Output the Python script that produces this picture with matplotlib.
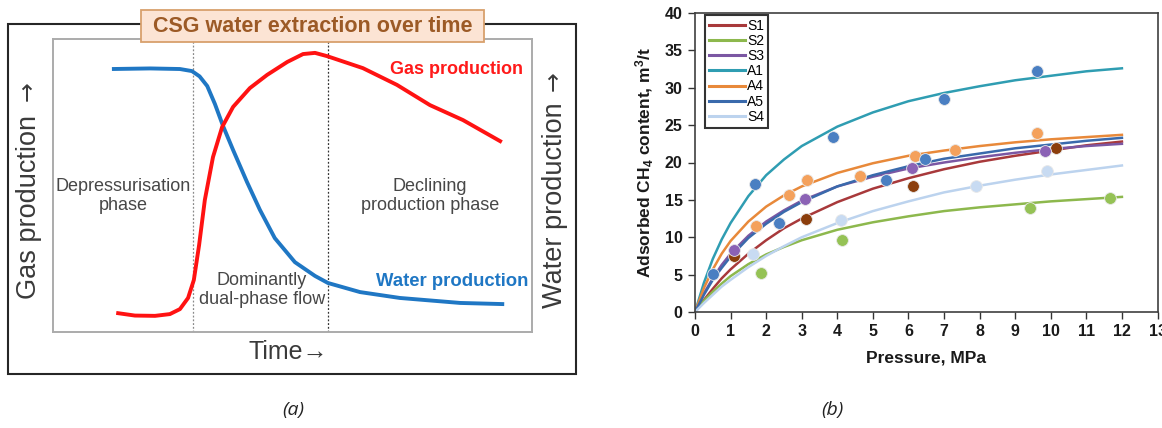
import matplotlib
matplotlib.use("Agg")
import matplotlib.pyplot as plt
from matplotlib.patches import Rectangle
from matplotlib.lines import Line2D

plt.rcParams['font.family'] = ['Liberation Sans', 'DejaVu Sans']
plt.rcParams['mathtext.fontset'] = 'custom'
plt.rcParams['mathtext.rm'] = 'Liberation Sans:bold'
plt.rcParams['mathtext.bf'] = 'Liberation Sans:bold'
plt.rcParams['mathtext.default'] = 'bf'

W, H = 1162, 428

# ---------------- Panel (a): schematic curves (time, relative level 0-100) ----------------
water_t = [12.3, 20.3, 26.5, 29.0, 30.6, 32.2, 33.8, 35.5, 37.6, 40.5, 43.2, 46.3, 50.5, 54.7, 57.4, 64.1, 72.4, 85.0, 94.2]
water_v = [89.6, 89.8, 89.6, 88.9, 87.1, 83.8, 77.7, 70.2, 62.0, 51.1, 41.6, 32.0, 23.8, 19.1, 16.7, 13.6, 11.6, 9.9, 9.5]
gas_t = [13.2, 17.1, 21.3, 24.4, 26.5, 28.2, 29.4, 30.5, 31.7, 33.4, 35.3, 37.6, 41.1, 44.7, 48.9, 52.2, 54.7, 57.2, 64.7, 71.8, 78.7, 85.6, 93.7]
gas_v = [6.5, 5.6, 5.5, 6.1, 7.8, 11.6, 17.7, 29.6, 45.0, 59.6, 69.8, 76.7, 83.1, 87.6, 92.0, 94.7, 95.1, 94.0, 89.9, 84.2, 77.3, 72.2, 64.7]
phase_bounds = [29.2, 57.4]

# ---------------- Panel (b): adsorption isotherms ----------------
pressure_curve = [0, 0.25, 0.5, 0.75, 1, 1.5, 2, 2.5, 3, 4, 5, 6, 7, 8, 9, 10, 11, 12]
series_names = ['S1', 'S2', 'S3', 'A1', 'A4', 'A5', 'S4']
curve_S1 = [0, 1.6, 3.1, 4.5, 5.7, 7.8, 9.6, 11.2, 12.5, 14.7, 16.5, 17.9, 19.1, 20.1, 20.9, 21.6, 22.3, 22.8]
curve_S2 = [0, 1.5, 2.7, 3.8, 4.8, 6.4, 7.7, 8.7, 9.6, 11.0, 12.0, 12.8, 13.5, 14.0, 14.4, 14.8, 15.1, 15.4]
curve_S3 = [0, 2.5, 4.5, 6.3, 7.8, 10.2, 12.1, 13.6, 14.9, 16.8, 18.1, 19.2, 20.0, 20.7, 21.3, 21.8, 22.2, 22.5]
curve_A1 = [0, 3.9, 7.1, 9.7, 11.9, 15.5, 18.3, 20.4, 22.2, 24.8, 26.7, 28.2, 29.3, 30.2, 31.0, 31.6, 32.2, 32.6]
curve_A4 = [0, 3.2, 5.7, 7.8, 9.5, 12.1, 14.1, 15.6, 16.8, 18.6, 19.9, 20.9, 21.6, 22.2, 22.7, 23.1, 23.4, 23.7]
curve_A5 = [0, 2.3, 4.3, 5.9, 7.4, 9.9, 11.8, 13.4, 14.7, 16.8, 18.3, 19.5, 20.5, 21.2, 21.9, 22.4, 22.9, 23.3]
curve_S4 = [0, 1.2, 2.3, 3.4, 4.3, 6.0, 7.5, 8.8, 10.0, 11.9, 13.5, 14.8, 16.0, 16.9, 17.7, 18.4, 19.0, 19.6]

pts_S1_p = [1.1, 3.12, 6.12, 10.16]; pts_S1_v = [7.5, 12.5, 16.9, 22.0]
pts_S2_p = [1.85, 4.13, 9.41, 11.66]; pts_S2_v = [5.2, 9.6, 13.9, 15.3]
pts_S3_p = [1.1, 3.1, 6.1, 9.83]; pts_S3_v = [8.3, 15.1, 19.2, 21.6]
pts_A1_p = [1.69, 3.87, 7.0, 9.62]; pts_A1_v = [17.1, 23.4, 28.5, 32.2]
pts_A4_p = [1.71, 2.65, 3.16, 4.65, 6.17, 7.31, 9.62]; pts_A4_v = [11.5, 15.6, 17.7, 18.2, 20.9, 21.7, 24.0]
pts_A5_p = [0.5, 2.35, 5.37, 6.46]; pts_A5_v = [5.1, 11.9, 17.6, 20.5]
pts_S4_p = [1.64, 4.1, 7.91, 9.88]; pts_S4_v = [7.8, 12.3, 16.8, 18.9]

x_ticks = list(range(0, 14))
y_ticks = list(range(0, 41, 5))


def fx(px):
    return px / W


def fy(py):
    return 1 - py / H


fig = plt.figure(figsize=(W / 100, H / 100), dpi=100)

# ---- panel (a) decorations in figure coordinates ----
outer = Rectangle((fx(8), fy(374)), fx(576) - fx(8), fy(24) - fy(374), transform=fig.transFigure,
                  fill=False, edgecolor='#262626', lw=1.5, zorder=1)
fig.patches.append(outer)

axL = fig.add_axes([fx(53), fy(332), fx(532) - fx(53), fy(38.5) - fy(332)])
axL.set_xlim(0, 100)
axL.set_ylim(0, 100)
axL.set_xticks([])
axL.set_yticks([])
for s in axL.spines.values():
    s.set_color('#ababab')
    s.set_linewidth(1.4)
for xb, c in zip(phase_bounds, ['#8a8a8a', '#333333']):
    axL.axvline(xb, color=c, lw=0.9, ls=(0, (1.5, 1.5)), zorder=1)
axL.plot(water_t, water_v, color='#1f77c4', lw=2.8, solid_capstyle='butt', zorder=3)
axL.plot(gas_t, gas_v, color='#ff1212', lw=2.8, solid_capstyle='butt', zorder=4)

title_box = Rectangle((fx(141), fy(42)), fx(484) - fx(141), fy(10) - fy(42), transform=fig.transFigure,
                      facecolor='#fce4d4', edgecolor='#d8a06c', lw=1.3, zorder=5)
fig.patches.append(title_box)
fig.text(fx(313), fy(26.5), 'CSG water extraction over time', ha='center', va='center',
         fontsize=15.5, fontweight='bold', color='#9c5a26', zorder=6)

fig.text(fx(29), fy(207), 'Gas production', rotation=90, ha='center', va='center',
         fontsize=19.5, color='#3a3a3a')
fig.text(fx(28), fy(91), '\u2192', rotation=90, ha='center', va='center',
         fontsize=17, color='#3a3a3a', family=['DejaVu Sans'])
fig.text(fx(555), fy(205), 'Water production', rotation=90, ha='center', va='center',
         fontsize=19.5, color='#3a3a3a')
fig.text(fx(554), fy(81), '\u2192', rotation=90, ha='center', va='center',
         fontsize=17, color='#3a3a3a', family=['DejaVu Sans'])
fig.text(fx(288), fy(352), 'Time\u2192', ha='center', va='center', fontsize=18, color='#3a3a3a')

fig.text(fx(123), fy(196), 'Depressurisation\nphase', ha='center', va='center', fontsize=13,
         color='#474747', linespacing=1.2)
fig.text(fx(430), fy(196), 'Declining\nproduction phase', ha='center', va='center', fontsize=13,
         color='#474747', linespacing=1.2)
fig.text(fx(262), fy(290), 'Dominantly\ndual-phase flow', ha='center', va='center', fontsize=13,
         color='#474747', linespacing=1.2)
fig.text(fx(456), fy(70), 'Gas production', ha='center', va='center', fontsize=13,
         fontweight='bold', color='#ff1a1a')
fig.text(fx(452), fy(281), 'Water production', ha='center', va='center', fontsize=13.3,
         fontweight='bold', color='#1f77c4')

fig.text(fx(293), fy(410), '(a)', ha='center', va='center', fontsize=14, style='italic',
         family=['Open Sans', 'DejaVu Sans'], color='#222222')
fig.text(fx(832), fy(410), '(b)', ha='center', va='center', fontsize=14, style='italic',
         family=['Open Sans', 'DejaVu Sans'], color='#222222')

# ---- panel (b) ----
axR = fig.add_axes([fx(695), fy(312), fx(1157.5) - fx(695), fy(13) - fy(312)])
line_colors = {'S1': '#a8393b', 'S2': '#8db84d', 'S3': '#7b57a3', 'A1': '#2f9db2',
               'A4': '#e8893a', 'A5': '#3a6aac', 'S4': '#bcd3ee'}
dot_colors = {'S1': '#8b3e0c', 'S2': '#95c255', 'S3': '#8b62b5', 'A1': '#4a7fc2',
              'A4': '#f4a15c', 'A5': '#4a7fc2', 'S4': '#c8dbf2'}
curves = {'S1': curve_S1, 'S2': curve_S2, 'S3': curve_S3, 'A1': curve_A1,
          'A4': curve_A4, 'A5': curve_A5, 'S4': curve_S4}
points = {'S1': (pts_S1_p, pts_S1_v), 'S2': (pts_S2_p, pts_S2_v), 'S3': (pts_S3_p, pts_S3_v),
          'A1': (pts_A1_p, pts_A1_v), 'A4': (pts_A4_p, pts_A4_v), 'A5': (pts_A5_p, pts_A5_v),
          'S4': (pts_S4_p, pts_S4_v)}
handles = []
for name in series_names:
    axR.plot(pressure_curve, curves[name], color=line_colors[name], lw=1.8, zorder=2)
    handles.append(Line2D([0], [0], color=line_colors[name], lw=2.2))
for name in series_names:
    p, v = points[name]
    axR.scatter(p, v, s=72, color=dot_colors[name], edgecolors='#e8e8e8', linewidths=0.6, zorder=3)

axR.set_xlim(0, 13)
axR.set_ylim(0, 40)
axR.set_xticks(x_ticks)
axR.set_yticks(y_ticks)
axR.tick_params(direction='out', length=5, width=1, colors='#333333', labelsize=11.5, pad=4)
for lab in axR.get_xticklabels() + axR.get_yticklabels():
    lab.set_fontweight('bold')
    lab.set_color('#1a1a1a')
for s in axR.spines.values():
    s.set_color('#404040')
    s.set_linewidth(1.2)
axR.set_xlabel('Pressure, MPa', fontsize=12.5, fontweight='bold', color='#1a1a1a', labelpad=8)
axR.set_ylabel('Adsorbed CH$_4$ content, m$^3$/t', fontsize=12.5, fontweight='bold',
               color='#1a1a1a', labelpad=6)
leg = axR.legend(handles, series_names, loc='upper left', bbox_to_anchor=(0.021, 0.994),
                 fontsize=10, frameon=True, fancybox=False, edgecolor='black',
                 handlelength=2.6, handletextpad=0.15, labelspacing=0.08, borderpad=0.3,
                 borderaxespad=0)
leg.get_frame().set_linewidth(1.5)

fig.savefig('out.png', dpi=100)
